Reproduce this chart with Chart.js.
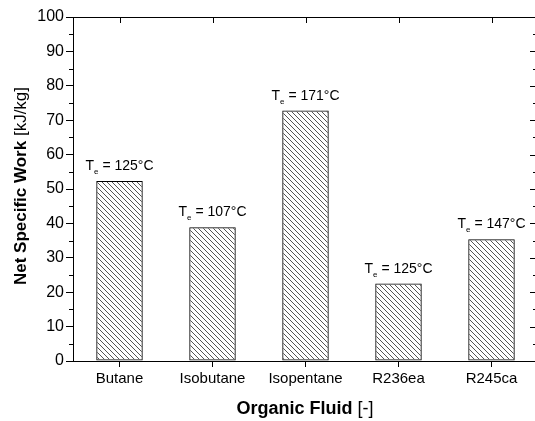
<!DOCTYPE html>
<html>
<head>
<meta charset="utf-8">
<script src="https://cdn.jsdelivr.net/npm/chart.js@4"></script>
<style>
  html, body { margin: 0; padding: 0; background: #fff; overflow: hidden; width: 535px; height: 421px; }
  #wrap { width: 535px; height: 421px; overflow: hidden; }
</style>
</head>
<body>
<div id="wrap"><canvas id="chart" width="545" height="421"></canvas></div>
<script>
// values
const fluids = ["Butane", "Isobutane", "Isopentane", "R236ea", "R245ca"];
const netWork = [52.3, 38.9, 72.8, 22.5, 35.4];
const evapTemps = [125, 107, 171, 125, 147];

const FONT = "'Liberation Sans', Arial, sans-serif";

// hatch fill  "\\\\"
function hatchPattern() {
    const s = 5;
    const c = document.createElement("canvas");
    c.width = s; c.height = s;
    const g = c.getContext("2d");
    g.strokeStyle = "#555";
    g.lineWidth = 1;
    g.beginPath();
    g.moveTo(0, 0); g.lineTo(s, s);
    g.moveTo(-1, s - 1); g.lineTo(1, s + 1);
    g.moveTo(s - 1, -1); g.lineTo(s + 1, 1);
    g.stroke();
    return g.createPattern(c, "repeat");
}

// frame: top axis, right-axis ticks (its line falls off the page), minor ticks, titles
const framePlugin = {
    id: "frame",
    afterDraw(chart) {
        const ctx = chart.ctx;
        const a = chart.chartArea;
        const y = chart.scales.y;
        const x = chart.scales.x;
        ctx.save();
        ctx.strokeStyle = "#000";
        ctx.lineWidth = 1;
        ctx.beginPath();
        ctx.moveTo(a.left, a.top + 0.5); ctx.lineTo(a.right + 10, a.top + 0.5);
        const rx = 535;
        for (let v = 0; v <= 100; v += 5) {
            const py = Math.round(y.getPixelForValue(v)) + 0.5;
            const major = v % 10 === 0;
            if (!major) {
                ctx.moveTo(a.left, py); ctx.lineTo(a.left - 4, py);
            }
            ctx.moveTo(rx, py); ctx.lineTo(rx - (major ? 5 : 2), py);
        }
        fluids.forEach((f, i) => {
            const px = Math.round(x.getPixelForValue(i)) + 0.5;
            ctx.moveTo(px, a.top); ctx.lineTo(px, a.top + 6);
        });
        ctx.stroke();

        // axis titles
        ctx.fillStyle = "#000";
        ctx.textBaseline = "alphabetic";
        function mixed(parts, cx, cy) {
            let w = 0;
            parts.forEach(p => { ctx.font = p[1]; w += ctx.measureText(p[0]).width; });
            let sx = cx - w / 2;
            ctx.textAlign = "left";
            parts.forEach(p => {
                ctx.font = p[1];
                ctx.fillText(p[0], sx, cy);
                sx += ctx.measureText(p[0]).width;
            });
        }
        mixed([["Organic Fluid", "bold 18px " + FONT], [" [-]", "18px " + FONT]],
              305, 414);
        ctx.save();
        ctx.translate(26, (a.top + a.bottom) / 2 - 3);
        ctx.rotate(-Math.PI / 2);
        mixed([["Net Specific Work", "bold 17px " + FONT], [" [kJ/kg]", "17px " + FONT]], 0, 0);
        ctx.restore();
        ctx.restore();
    }
};

// "Te = xxx°C" above each bar
const tempLabels = {
    id: "tempLabels",
    afterDatasetsDraw(chart) {
        const ctx = chart.ctx;
        const meta = chart.getDatasetMeta(0);
        ctx.save();
        ctx.fillStyle = "#000";
        ctx.textAlign = "left";
        ctx.textBaseline = "alphabetic";
        meta.data.forEach((bar, i) => {
            const big = "14px " + FONT;
            const small = "8px " + FONT;
            const rest = " = " + evapTemps[i] + "°C";
            ctx.font = big;
            const wT = ctx.measureText("T").width;
            const wR = ctx.measureText(rest).width;
            ctx.font = small;
            const wE = ctx.measureText("e").width;
            let sx = bar.x - (wT + wE + wR) / 2;
            const by = bar.y - 11;
            ctx.font = big;
            ctx.fillText("T", sx, by);
            sx += wT;
            ctx.font = small;
            ctx.fillText("e", sx, by + 4);
            sx += wE;
            ctx.font = big;
            ctx.fillText(rest, sx, by);
        });
        ctx.restore();
    }
};

new Chart(document.getElementById("chart").getContext("2d"), {
    type: "bar",
    data: {
        labels: fluids,
        datasets: [{
            data: netWork,
            backgroundColor: hatchPattern(),
            borderColor: "#000",
            borderWidth: 1,
            borderSkipped: false,
            barPercentage: 0.5,
            categoryPercentage: 1.0
        }]
    },
    options: {
        responsive: false,
        animation: false,
        layout: { padding: { top: 17, right: 7, left: 0, bottom: 0 } },
        plugins: {
            legend: { display: false },
            tooltip: { enabled: false }
        },
        scales: {
            x: {
                offset: true,
                afterFit: s => { s.height = 60; },
                grid: { display: true, drawOnChartArea: false, offset: false,
                        tickLength: 6, color: "#000" },
                border: { display: true, color: "#000", width: 1 },
                ticks: { color: "#000", font: { family: FONT, size: 15 }, padding: 3 }
            },
            y: {
                min: 0, max: 100,
                afterFit: s => { s.width = 73; },
                grid: { display: true, drawOnChartArea: false, tickLength: 7, color: "#000" },
                border: { display: true, color: "#000", width: 1 },
                ticks: { stepSize: 10, color: "#000", font: { family: FONT, size: 16 }, padding: 2 }
            }
        }
    },
    plugins: [framePlugin, tempLabels]
});
</script>
</body>
</html>
